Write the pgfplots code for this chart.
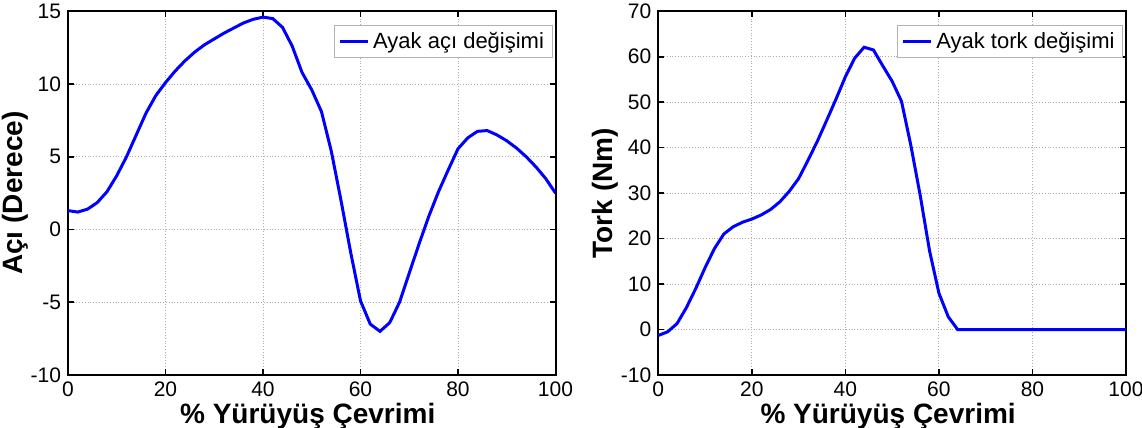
\documentclass[border=0pt]{standalone}
\usepackage{fontspec}
\setmainfont{Liberation Sans}
\usepackage{pgfplots}
\pgfplotsset{compat=1.18}

\definecolor{lineblue}{RGB}{30,30,182}

\pgfplotsset{
  mystyle/.style={
    scale only axis,
    xmin=0,xmax=100,
    xtick={0,20,...,100},
    tick align=inside,
    tick pos=both,
    grid=major,
    grid style={densely dotted, gray!65, line width=0.5pt},
    axis line style={line width=1pt},
    major tick style={line width=0.8pt, black},
    major tick length=3pt,
    tick label style={font=\fontsize{10.5}{12}\selectfont},
    /pgf/number format/assume math mode=true,
    label style={font=\bfseries\fontsize{14}{16}\selectfont},
    xlabel={\% Yürüyüş Çevrimi},
    xlabel style={at={(axis description cs:0.5,0)}, anchor=base, yshift=-24.15pt, xshift=-2pt},
    legend style={at={(1,1)}, anchor=north east, xshift=-1.5pt, yshift=-7pt, draw=gray!60, line width=0.5pt, font=\fontsize{11}{13}\selectfont, inner xsep=2pt, inner ysep=1pt},
    legend image code/.code={\draw[#1] (0pt,0pt) -- (14pt,0pt);},
    every axis plot/.append style={line width=1.5pt, color=lineblue, mark=none},
  }
}

\begin{document}
\begin{tikzpicture}
\begin{axis}[mystyle,
  at={(34pt,26.5pt)}, anchor=south west,
  width=243.75pt, height=181.85pt,
  ymin=-10, ymax=15, ytick={-10,-5,0,5,10,15},
  ylabel={Açı (Derece)},
  ylabel style={at={(axis description cs:-0.1087,0.5)}, anchor=center},
]
\addplot+[mark=none] coordinates {
(0,1.3) (2,1.2) (4,1.4) (6,1.85) (8,2.6) (10,3.7) (12,5.0) (14,6.5) (16,8.0) (18,9.2)
(20,10.1) (22,10.9) (24,11.6) (26,12.2) (28,12.7) (30,13.1) (32,13.5) (34,13.85) (36,14.2) (38,14.45)
(40,14.6) (42,14.5) (44,13.9) (46,12.6) (48,10.8) (50,9.6) (52,8.1) (54,5.4) (56,2.0) (58,-1.6)
(60,-4.9) (62,-6.5) (64,-7.0) (66,-6.4) (68,-5.0) (70,-3.0) (72,-1.0) (74,0.9) (76,2.6) (78,4.1)
(80,5.55) (82,6.3) (84,6.75) (86,6.8) (88,6.5) (90,6.1) (92,5.6) (94,5.0) (96,4.3) (98,3.5) (100,2.5)
};
\addlegendentry{Ayak açı değişimi}
\end{axis}

\begin{axis}[mystyle,
  at={(329.15pt,26.5pt)}, anchor=south west,
  width=233.85pt, height=181.85pt,
  ymin=-10, ymax=70, ytick={-10,0,...,70},
  ylabel={Tork (Nm)},
  ylabel style={at={(axis description cs:-0.114,0.5)}, anchor=center},
]
\addplot+[mark=none] coordinates {
(0,-1.3) (2,-0.5) (4,1.3) (6,4.8) (8,9.0) (10,13.6) (12,17.8) (14,21.0) (16,22.6) (18,23.6)
(20,24.3) (22,25.2) (24,26.4) (26,28.1) (28,30.4) (30,33.2) (32,37.2) (34,41.4) (36,46.0) (38,50.7)
(40,55.6) (42,59.7) (44,62.1) (46,61.5) (48,58.0) (50,54.6) (52,50.2) (54,40.5) (56,29.5) (58,17.3)
(60,8.0) (62,2.8) (64,0) (100,0)
};
\addlegendentry{Ayak tork değişimi}
\end{axis}
\pgfresetboundingbox
\useasboundingbox (0,0) rectangle (571pt,214pt);
\end{tikzpicture}
\end{document}
